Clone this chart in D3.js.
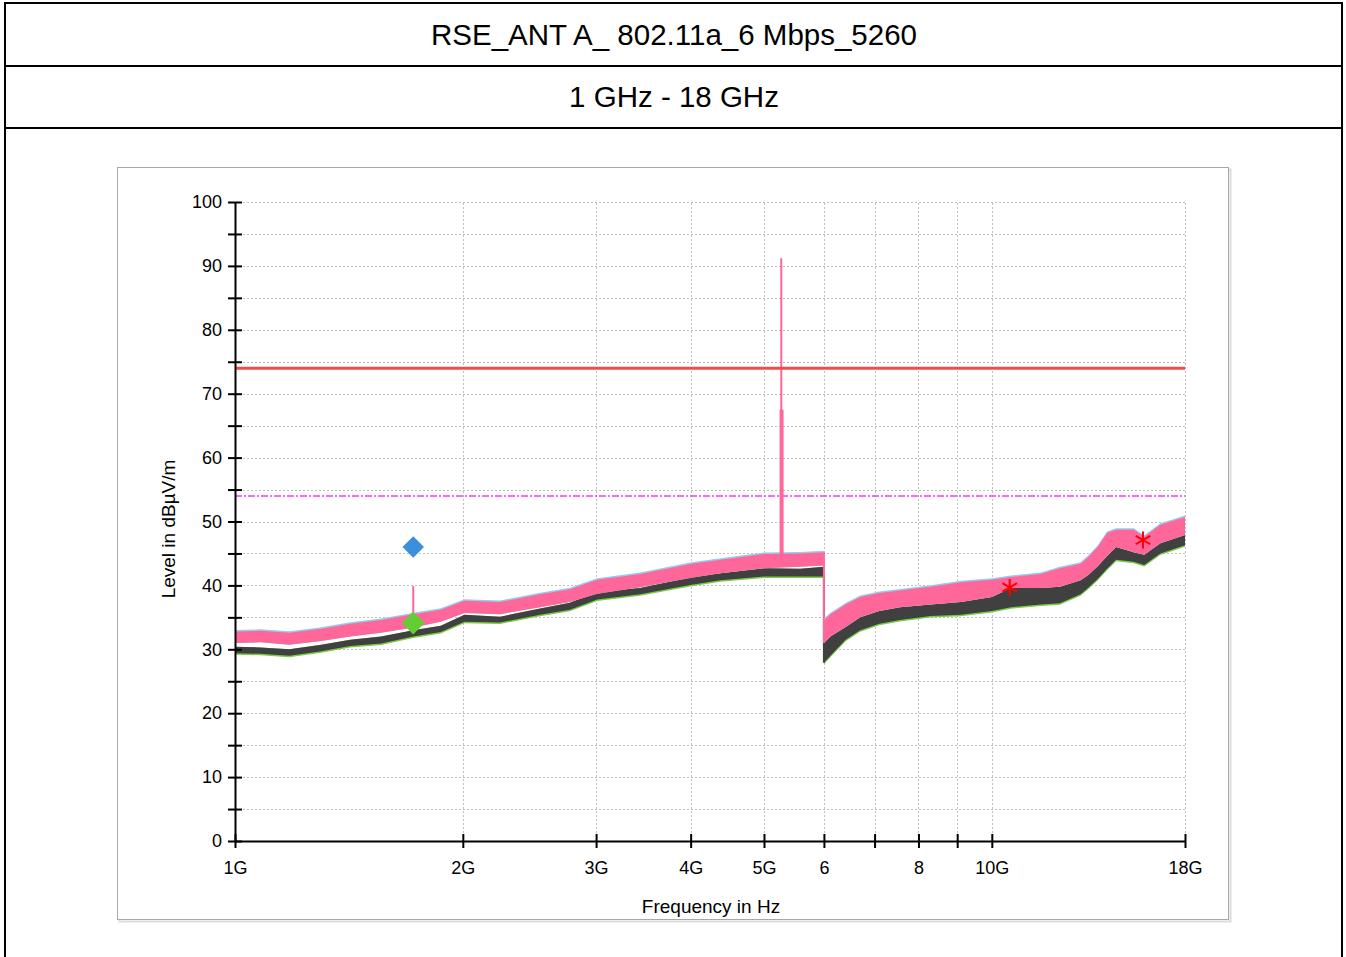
<!DOCTYPE html>
<html><head><meta charset="utf-8">
<script src="https://cdn.jsdelivr.net/npm/d3@7"></script>
<style>
html,body{margin:0;padding:0;background:#fff;}
svg{display:block;}
text{font-family:"Liberation Sans",Arial,sans-serif;}
</style></head>
<body>
<svg id="c" width="1346" height="957"></svg>
<script>
// ---------- data (frequency in GHz, level in dBµV/m) ----------
const title = "RSE_ANT A_ 802.11a_6 Mbps_5260";
const subtitle = "1 GHz - 18 GHz";
const xTickValues = [1, 2, 3, 4, 5, 6, 7, 8, 9, 10, 18];
const xTickLabels = ["1G", "2G", "3G", "4G", "5G", "6", "", "8", "", "10G", "18G"];
const yTickValues = [0,5,10,15,20,25,30,35,40,45,50,55,60,65,70,75,80,85,90,95,100];

// segment 1 : 1 GHz – 6 GHz
const seg1Freq  = [1.00, 1.08, 1.18, 1.30, 1.42, 1.56, 1.72, 1.87, 2.01, 2.24, 2.53, 2.77, 3.01, 3.43, 4.01, 4.38, 5.00, 5.58, 6.00];
const seg1PkHi  = [32.8, 32.9, 32.6, 33.2, 34.0, 34.6, 35.5, 36.2, 37.6, 37.4, 38.6, 39.4, 40.9, 41.8, 43.4, 44.0, 44.9, 45.0, 45.2];
const seg1PkLo  = [31.0, 31.1, 30.7, 31.3, 32.0, 32.6, 33.4, 34.3, 35.7, 35.5, 36.6, 37.4, 38.7, 39.7, 41.2, 41.9, 42.7, 42.9, 43.1];
const seg1AvHi  = [30.4, 30.3, 30.0, 30.7, 31.5, 32.0, 33.0, 33.7, 35.4, 35.1, 36.4, 37.3, 39.0, 39.6, 41.3, 41.9, 42.7, 42.6, 42.9];
const seg1AvLo  = [29.4, 29.3, 29.0, 29.7, 30.5, 30.9, 32.0, 32.7, 34.3, 34.2, 35.4, 36.2, 37.8, 38.6, 40.1, 40.8, 41.4, 41.4, 41.4];

// segment 2 : 6 GHz – 18 GHz
const seg2Freq  = [6.00, 6.12, 6.41, 6.70, 7.10, 7.56, 8.30, 9.10, 10.0, 10.6, 11.6, 12.3, 13.1, 13.4, 13.8, 14.2, 14.6, 15.4, 15.9, 16.7, 18.0];
const seg2PkHi  = [34.6, 35.5, 37.0, 38.2, 38.8, 39.2, 39.8, 40.5, 40.9, 41.3, 41.8, 42.7, 43.4, 44.4, 46.0, 48.2, 48.7, 48.7, 47.6, 49.5, 50.7];
const seg2PkLo  = [31.0, 32.0, 33.5, 35.0, 36.0, 36.6, 37.0, 37.4, 38.2, 39.6, 39.6, 39.8, 40.8, 41.6, 43.0, 44.6, 46.0, 45.2, 44.8, 46.6, 47.9];
const seg2AvLo  = [27.9, 29.0, 31.5, 33.0, 34.0, 34.6, 35.2, 35.4, 36.0, 36.6, 37.0, 37.2, 38.6, 39.6, 41.0, 42.6, 44.0, 43.7, 43.2, 45.0, 46.3];

// narrow-band peaks of the peak trace
const spikeFreq  = [1.72, 5.27];
const spikeLevel = [39.9, 91.2];
const wideSpikeFreq  = [5.275];
const wideSpikeLevel = [67.5];

// limit lines
const limitPeak = 74;
const limitAvg  = 54;

// final measurement markers
const peakDiamond = {f: 1.72, v: 46.0};
const avgDiamond  = {f: 1.72, v: 34.1};
const starFreq  = [10.56, 15.84];
const starLevel = [39.7, 47.1];

// ---------- drawing ----------
const svg = d3.select("#c");

// outer report frame
const frame = svg.append("g").attr("stroke", "#000").attr("stroke-width", 2).attr("fill", "none");
frame.append("rect").attr("x", 5).attr("y", 3).attr("width", 1337).attr("height", 970);
frame.append("line").attr("x1", 5).attr("x2", 1342).attr("y1", 66).attr("y2", 66);
frame.append("line").attr("x1", 5).attr("x2", 1342).attr("y1", 128).attr("y2", 128);

svg.append("text").attr("x", 674).attr("y", 45).attr("text-anchor", "middle")
  .attr("font-size", 29.5).attr("fill", "#000").text(title);
svg.append("text").attr("x", 674).attr("y", 107).attr("text-anchor", "middle")
  .attr("font-size", 29.5).attr("fill", "#000").text(subtitle);

// chart panel
svg.append("rect").attr("x", 119.5).attr("y", 169.5).attr("width", 1111).attr("height", 752)
  .attr("fill", "none").attr("stroke", "#dcdcdc").attr("stroke-width", 2);
svg.append("rect").attr("x", 117.5).attr("y", 167.5).attr("width", 1111).attr("height", 752)
  .attr("fill", "#fff").attr("stroke", "#a8a8a8").attr("stroke-width", 1);

const x = d3.scaleLog().domain([1, 18]).range([235, 1185]);
const y = d3.scaleLinear().domain([0, 100]).range([841, 202]);

// grid
const grid = svg.append("g").attr("stroke", "#c0c0c0").attr("stroke-width", 1).attr("stroke-dasharray", "2,2");
grid.selectAll("line.h").data(yTickValues.filter(v => v > 0)).join("line")
  .attr("x1", x(1)).attr("x2", x(18))
  .attr("y1", d => Math.round(y(d)) + 0.5).attr("y2", d => Math.round(y(d)) + 0.5);
grid.selectAll("line.v").data(xTickValues.filter(v => v > 1)).join("line")
  .attr("y1", y(0)).attr("y2", y(100))
  .attr("x1", d => Math.round(x(d)) + 0.5).attr("x2", d => Math.round(x(d)) + 0.5);

// avg limit (dash-dot magenta)
svg.append("line").attr("x1", x(1)).attr("x2", x(18)).attr("y1", y(limitAvg)).attr("y2", y(limitAvg))
  .attr("stroke", "#ff33ff").attr("stroke-width", 1.5).attr("stroke-dasharray", "7,2,2,2");

// traces
function seg(freq, hi, lo) { return freq.map((f, i) => ({f, hi: hi[i], lo: lo[i]})); }
const s1pk = seg(seg1Freq, seg1PkHi, seg1PkLo);
const s1av = seg(seg1Freq, seg1AvHi, seg1AvLo);
const s2pk = seg(seg2Freq, seg2PkHi, seg2PkLo);
const s2av = seg(seg2Freq, seg2PkLo, seg2AvLo);

const area = (dHi, dLo) => d3.area().x(d => x(d.f)).y0(d => y(d.lo) + dLo).y1(d => y(d.hi) - dHi).curve(d3.curveLinear);

const tr = svg.append("g");
[s1av, s2av].forEach(s => {
  tr.append("path").datum(s).attr("d", area(0, 1.5)).attr("fill", "#77cc44");
  tr.append("path").datum(s).attr("d", area(0, 0)).attr("fill", "#404040");
});
// connection at 6 GHz
tr.append("line").attr("x1", x(6)).attr("x2", x(6))
  .attr("y1", y(seg1AvLo[seg1AvLo.length - 1])).attr("y2", y(seg2AvLo[0]))
  .attr("stroke", "#404040").attr("stroke-width", 2);
tr.append("line").attr("x1", x(6)).attr("x2", x(6))
  .attr("y1", y(seg1PkHi[seg1PkHi.length - 1])).attr("y2", y(seg2PkLo[0]))
  .attr("stroke", "#ff6699").attr("stroke-width", 2);
[s1pk, s2pk].forEach(s => {
  tr.append("path").datum(s).attr("d", area(1.5, 0)).attr("fill", "#99c8f0");
  tr.append("path").datum(s).attr("d", area(0, 0)).attr("fill", "#ff6699");
});

// spikes
tr.selectAll("line.sp").data(spikeFreq).join("line")
  .attr("x1", d => x(d)).attr("x2", d => x(d))
  .attr("y1", (d, i) => y(spikeLevel[i])).attr("y2", d => y(d < 3 ? 34 : 44))
  .attr("stroke", "#ff6699").attr("stroke-width", 2);
tr.selectAll("line.wsp").data(wideSpikeFreq).join("line")
  .attr("x1", d => x(d)).attr("x2", d => x(d))
  .attr("y1", (d, i) => y(wideSpikeLevel[i])).attr("y2", y(44))
  .attr("stroke", "#ff6699").attr("stroke-width", 4);

// peak limit
svg.append("line").attr("x1", x(1)).attr("x2", x(18)).attr("y1", y(limitPeak)).attr("y2", y(limitPeak))
  .attr("stroke", "#f44a4a").attr("stroke-width", 3);

// axes
const yAxis = d3.axisLeft(y).tickValues(yTickValues).tickSizeInner(14).tickSizeOuter(0)
  .tickFormat(d => d % 10 === 0 ? d : "");
const gy = svg.append("g").attr("transform", `translate(${x(1)},0)`).call(yAxis);
gy.select(".domain").attr("stroke", "#000").attr("stroke-width", 2);
gy.selectAll(".tick line").attr("x1", -7).attr("x2", 7).attr("stroke", "#000").attr("stroke-width", 2);
gy.selectAll(".tick text").attr("x", -13).attr("font-size", 18).attr("fill", "#000")
  .attr("font-family", "Liberation Sans, Arial, sans-serif");

const xAxis = d3.axisBottom(x).tickValues(xTickValues).tickSizeInner(14).tickSizeOuter(0)
  .tickFormat((d, i) => xTickLabels[i]);
const gx = svg.append("g").attr("transform", `translate(0,${y(0)})`).call(xAxis);
gx.select(".domain").attr("stroke", "#000").attr("stroke-width", 2);
gx.selectAll(".tick line").attr("y1", -7).attr("y2", 7).attr("stroke", "#000").attr("stroke-width", 2);
gx.selectAll(".tick text").attr("y", 20).attr("font-size", 18).attr("fill", "#000")
  .attr("font-family", "Liberation Sans, Arial, sans-serif");

svg.append("text").attr("x", 711).attr("y", 913).attr("text-anchor", "middle")
  .attr("font-size", 19).attr("fill", "#000").text("Frequency in Hz");
svg.append("text").attr("transform", "translate(175,529) rotate(-90)").attr("text-anchor", "middle")
  .attr("font-size", 19).attr("fill", "#000").text("Level in dBµV/m");

// markers
const diamond = d3.symbol().type(d3.symbolSquare);
svg.append("path").attr("d", diamond.size(230)())
  .attr("transform", `translate(${x(peakDiamond.f)},${y(peakDiamond.v)}) rotate(45)`)
  .attr("fill", "#3b8fdb");
svg.append("path").attr("d", diamond.size(260)())
  .attr("transform", `translate(${x(avgDiamond.f)},${y(avgDiamond.v)}) rotate(45)`)
  .attr("fill", "#66cc33");
const star = d3.symbol().type(d3.symbolAsterisk).size(200);
svg.selectAll("path.star").data(starFreq).join("path")
  .attr("d", star())
  .attr("transform", (d, i) => `translate(${x(d)},${y(starLevel[i])})`)
  .attr("fill", "none").attr("stroke", "#ff0000").attr("stroke-width", 2);
</script>
</body></html>
